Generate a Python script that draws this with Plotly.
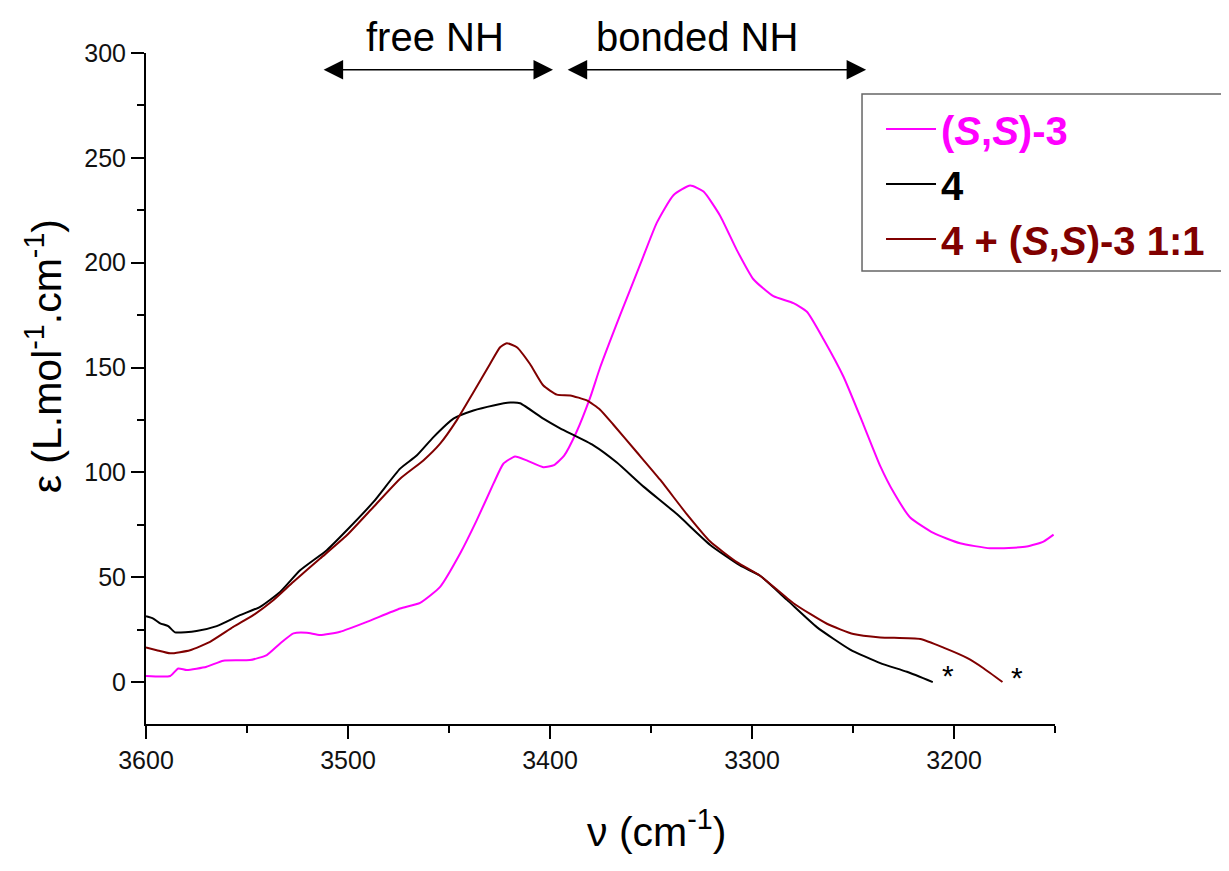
import plotly.graph_objects as go

# ---- data ----
ss3_x = [3600, 3588, 3584, 3579.8, 3570, 3561.7, 3548.5, 3540.2, 3533.6, 3527, 3520.4, 3513.8,
         3503.9, 3490.7, 3474.2, 3464.3, 3454.4, 3444.5, 3436.3, 3428, 3423.1, 3417.3, 3411.5,
         3403.3, 3398, 3393, 3387, 3380, 3375.2, 3365.3, 3355.2, 3347.1, 3338.9, 3330.6, 3324,
         3315.8, 3307.5, 3299.3, 3289.4, 3279.5, 3272.8, 3264.6, 3254.7, 3244.8, 3236.5, 3229.6,
         3221.7, 3210.2, 3197, 3182.1, 3164, 3155.7, 3150.7]
ss3_y = [2.9, 2.9, 6.5, 5.7, 7.3, 10.2, 10.5, 12.9, 18.4, 23.2, 23.5, 22.4,
         24, 28.7, 35.1, 37.8, 45.4, 61.3, 77.1, 94.6, 104.1, 107.6, 105.7,
         102.5, 103.5, 108, 119, 136, 150, 175, 199.5, 219.1, 232.2, 236.8, 233.9,
         222.4, 206, 192.1, 184, 180.7, 176.6, 163.5, 145.6, 122.7, 103, 90,
         78.5, 71.1, 66.2, 63.8, 64.6, 67, 70.3]

c4_x = [3600, 3596.4, 3593, 3589, 3585.6, 3575, 3565, 3553.5, 3543.5, 3533.6, 3523.7, 3510.5,
        3500.6, 3487.4, 3474.2, 3466, 3457.7, 3447.8, 3437.9, 3428, 3419.8, 3414.8, 3403.3,
        3395, 3378.5, 3366.9, 3353.7, 3337.2, 3320.7, 3305.9, 3296, 3282.7, 3267.9, 3251.4,
        3236.5, 3223.3, 3210.5]
c4_y = [31.4, 30.3, 28, 26.7, 23.7, 24.4, 26.7, 31.9, 35.9, 43, 53.3, 62.9,
        72.4, 85.9, 101.8, 108, 116.8, 125.6, 129.5, 131.9, 133.3, 133, 125.6,
        121.0, 112.9, 104.7, 93.2, 80.1, 65.4, 55.6, 50.7, 39.2, 26.2, 15.5,
        9.0, 4.9, 0]

mix_x = [3600, 3594.7, 3588, 3578.2, 3568.3, 3556.8, 3546.9, 3537, 3527, 3513.8, 3500.6, 3487.4,
         3474.2, 3462.7, 3454.4, 3446.2, 3437.9, 3429.7, 3424.7, 3421.4, 3416.4, 3409.9, 3403.3,
         3396.6, 3390, 3381.8, 3375.2, 3368.6, 3357, 3345.5, 3332.3, 3320.7, 3307.5, 3296,
         3279.5, 3262.9, 3249.8, 3236.5, 3216.7, 3205.2, 3193.6, 3185.4, 3176]
mix_y = [16.5, 15.2, 13.7, 15.2, 19.2, 26.3, 31.9, 39, 47.8, 58.9, 70, 83.5,
         97, 105.7, 113.7, 124.8, 138.2, 151.7, 159.7, 161.6, 159.7, 151.7, 141.4,
         137.1, 136.7, 134.3, 129.9, 122.7, 109.6, 96.5, 80.1, 67.0, 57.2, 50.7,
         37.6, 27.8, 22.9, 21.3, 20.5, 16.4, 11.5, 6.6, 0]

series_names = [
    "<span style='color:#FF00FF'><b>(<i>S</i>,<i>S</i>)-3</b></span>",
    "<span style='color:#000000'><b>4</b></span>",
    "<span style='color:#800000'><b>4 + (<i>S</i>,<i>S</i>)-3 1:1</b></span>",
]
series_colors = ["#FF00FF", "#000000", "#800000"]

region_labels = ["free NH", "bonded NH"]
region_label_x = [3457, 3327]
region_from = [3512.8, 3392]
region_to = [3398.5, 3243.5]

star_x = [3203, 3169]
star_y = [3.0, 2.0]

FONT = "Liberation Sans, Arial, sans-serif"

fig = go.Figure()
for i, (xs, ys, nm, col) in enumerate(zip([ss3_x, c4_x, mix_x], [ss3_y, c4_y, mix_y],
                                          series_names, series_colors)):
    fig.add_trace(go.Scatter(x=xs, y=ys, mode="lines", name=nm, legendgroup=f"g{i}",
                             line=dict(color=col, width=2, shape="spline", smoothing=0.5)))

annotations = []
for lab, lx, a, b in zip(region_labels, region_label_x, region_from, region_to):
    annotations.append(dict(x=lx, y=1.024, xref="x", yref="paper", text=lab, showarrow=False,
                            xanchor="center", yanchor="middle",
                            font=dict(family=FONT, size=40, color="black")))
    annotations.append(dict(x=b, y=292, ax=a, ay=292, xref="x", yref="y", axref="x", ayref="y",
                            text="", showarrow=True, arrowhead=2, startarrowhead=2,
                            arrowside="end+start", arrowsize=2.6, startarrowsize=2.6,
                            arrowwidth=1.5, arrowcolor="black", standoff=0, startstandoff=0))
for sx, sy in zip(star_x, star_y):
    annotations.append(dict(x=sx, y=sy, xref="x", yref="y", text="*", showarrow=False,
                            font=dict(family=FONT, size=30, color="black")))

annotations.append(dict(x=-0.1122, y=0.548, xref="paper", yref="paper", textangle=-90,
                        xanchor="center", yanchor="middle",
                        text="ε (L.mol<sup>-1</sup>.cm<sup>-1</sup>)", showarrow=False,
                        font=dict(family=FONT, size=41, color="black")))
annotations.append(dict(x=0.562, y=-0.156, xref="paper", yref="paper",
                        xanchor="center", yanchor="middle",
                        text="ν (cm<sup>-1</sup>)", showarrow=False,
                        font=dict(family=FONT, size=41, color="black")))

shapes = [dict(type="rect", xref="paper", yref="paper", x0=0.7877, x1=1.2, y0=0.6751, y1=0.9389,
               line=dict(color="#666666", width=1.5), fillcolor="rgba(0,0,0,0)", layer="above")]

fig.update_layout(
    width=1221, height=863,
    margin=dict(l=138, r=174, t=45, b=147),
    paper_bgcolor="white", plot_bgcolor="white",
    font=dict(family=FONT, color="black"),
    showlegend=True,
    legend=dict(x=0.8086, y=0.935, xanchor="left", yanchor="top",
                borderwidth=0, bgcolor="rgba(0,0,0,0)", traceorder="grouped", tracegroupgap=0,
                font=dict(family=FONT, size=40), itemwidth=50),
    annotations=annotations,
    shapes=shapes,
    xaxis=dict(range=[3600, 3150], tick0=3600, dtick=100, showgrid=False, zeroline=False,
               showline=True, linecolor="black", linewidth=2,
               ticks="outside", ticklen=13, tickwidth=2, tickcolor="black",
               tickfont=dict(family=FONT, size=25, color="#111111"),
               minor=dict(dtick=50, ticks="outside", ticklen=7, tickwidth=2, tickcolor="black")),
    yaxis=dict(range=[-20, 300], tick0=0, dtick=50, showgrid=False, zeroline=False,
               showline=True, linecolor="black", linewidth=2,
               ticks="outside", ticklen=13, tickwidth=2, tickcolor="black",
               tickfont=dict(family=FONT, size=25, color="#111111"),
               minor=dict(dtick=25, ticks="outside", ticklen=7, tickwidth=2, tickcolor="black")),
)

fig.write_html("out.html")
